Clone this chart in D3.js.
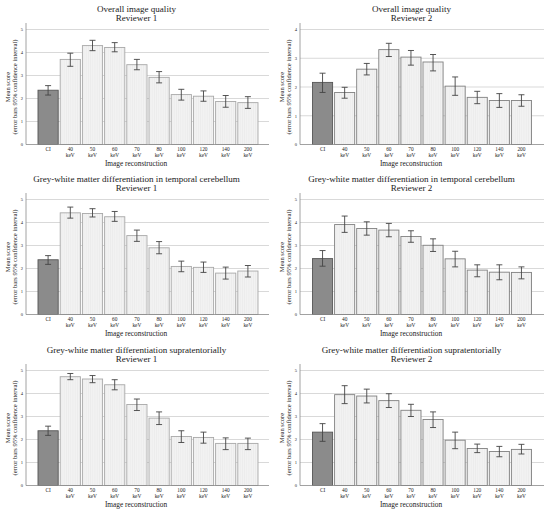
<!DOCTYPE html>
<html><head><meta charset="utf-8">
<script src="https://cdn.jsdelivr.net/npm/d3@7"></script>
<style>body{margin:0;background:#fff}svg{display:block}text{font-family:"Liberation Serif","Times New Roman",serif;fill:#222}</style>
</head><body>
<script>
const categories = ["CI","40 keV","50 keV","60 keV","70 keV","80 keV","100 keV","120 keV","140 keV","200 keV"];
const titles = [
  ["Overall image quality","Reviewer 1"],
  ["Overall image quality","Reviewer 2"],
  ["Grey-white matter differentiation in temporal cerebellum","Reviewer 1"],
  ["Grey-white matter differentiation in temporal cerebellum","Reviewer 2"],
  ["Grey-white matter differentiation supratentorially","Reviewer 1"],
  ["Grey-white matter differentiation supratentorially","Reviewer 2"]
];
const yMaxes = [5,4,5,5,5,5];

const p1Mean = [2.36,3.70,4.30,4.22,3.47,2.92,2.17,2.10,1.87,1.82];
const p1Lo   = [2.15,3.40,4.08,4.03,3.25,2.68,1.93,1.88,1.62,1.57];
const p1Hi   = [2.56,3.97,4.53,4.43,3.70,3.17,2.40,2.33,2.13,2.08];

const p2Mean = [2.16,1.81,2.62,3.30,3.04,2.87,2.03,1.64,1.53,1.53];
const p2Lo   = [1.81,1.61,2.42,3.06,2.76,2.56,1.71,1.42,1.29,1.33];
const p2Hi   = [2.48,1.99,2.82,3.52,3.27,3.13,2.35,1.85,1.77,1.73];

const p3Mean = [2.38,4.42,4.39,4.25,3.43,2.90,2.09,2.05,1.80,1.89];
const p3Lo   = [2.18,4.19,4.24,4.05,3.18,2.64,1.86,1.83,1.54,1.63];
const p3Hi   = [2.56,4.67,4.60,4.48,3.67,3.17,2.32,2.28,2.06,2.13];

const p4Mean = [2.43,3.91,3.74,3.67,3.39,3.01,2.42,1.93,1.84,1.83];
const p4Lo   = [2.10,3.57,3.45,3.38,3.14,2.74,2.07,1.64,1.51,1.55];
const p4Hi   = [2.78,4.28,4.03,3.96,3.64,3.29,2.75,2.16,2.16,2.07];

const p5Mean = [2.38,4.73,4.63,4.38,3.52,2.93,2.13,2.09,1.83,1.83];
const p5Lo   = [2.18,4.60,4.47,4.16,3.26,2.65,1.87,1.84,1.56,1.56];
const p5Hi   = [2.58,4.87,4.78,4.60,3.76,3.20,2.38,2.32,2.07,2.06];

const p6Mean = [2.32,3.95,3.89,3.69,3.27,2.87,1.97,1.61,1.48,1.57];
const p6Lo   = [1.92,3.56,3.59,3.39,3.00,2.52,1.60,1.43,1.25,1.37];
const p6Hi   = [2.69,4.34,4.19,3.99,3.53,3.20,2.32,1.80,1.70,1.79];

const panels = [
  {mean:p1Mean, lo:p1Lo, hi:p1Hi},
  {mean:p2Mean, lo:p2Lo, hi:p2Hi},
  {mean:p3Mean, lo:p3Lo, hi:p3Hi},
  {mean:p4Mean, lo:p4Lo, hi:p4Hi},
  {mean:p5Mean, lo:p5Lo, hi:p5Hi},
  {mean:p6Mean, lo:p6Lo, hi:p6Hi}
];
const yLabel1 = "Mean score";
const yLabel2 = "(error bars 95% confidence interval)";
const xLabel = "Image reconstruction";

const W = 550, H = 512;
const svg = d3.select("body").append("svg").attr("width", W).attr("height", H);

// calibrate font scale so the long title spans ~209px as in the reference
const probe = svg.append("text").style("font-size", "10px").text(titles[2][0]);
const probeW = probe.node().getComputedTextLength();
probe.remove();
const fs = 10 * 207 / probeW; // title font size
const k = fs / 9; // scale for other texts

const defs = svg.append("defs");
const pat = defs.append("pattern").attr("id","stripes").attr("patternUnits","userSpaceOnUse")
  .attr("width",2.2).attr("height",4);
pat.append("rect").attr("width",2.2).attr("height",4).attr("fill","#f2f2f2");
pat.append("line").attr("x1",0.3).attr("x2",0.3).attr("y1",0).attr("y2",4).attr("stroke","#e4e4e4").attr("stroke-width",0.5);

const offsets = [[0,0],[275,0],[0,170],[275,170],[0,341],[275,341]];

panels.forEach((p, i) => {
  const right = i % 2 === 1;
  const g = svg.append("g").attr("transform", `translate(${offsets[i][0]},${offsets[i][1]})`);
  const axisX = right ? 25 : 26;
  const plotR = 269;
  const base = 144.5, top = 29.5;
  const y = d3.scaleLinear().domain([0, yMaxes[i]]).range([base, top]);
  const x = d3.scaleBand().domain(categories).range(right ? [37.5, 256.5] : [38, 258]).paddingInner(0.09).paddingOuter(0);

  // gridlines
  g.append("g").selectAll("line").data(d3.range(1, yMaxes[i] + 1)).join("line")
    .attr("x1", axisX).attr("x2", plotR).attr("y1", d => y(d)).attr("y2", d => y(d))
    .attr("stroke", "#cfcfcf").attr("stroke-width", 0.8);

  // bars
  const strokeLight = right ? "#808080" : "#a8a8a8";
  g.append("g").selectAll("rect").data(categories).join("rect")
    .attr("x", d => x(d)).attr("width", x.bandwidth())
    .attr("y", (d, j) => y(p.mean[j])).attr("height", (d, j) => base - y(p.mean[j]))
    .attr("fill", (d, j) => j === 0 ? "#8b8b8b" : "url(#stripes)")
    .attr("stroke", (d, j) => j === 0 ? "#555" : strokeLight)
    .attr("stroke-width", 0.9);

  // error bars
  const eb = g.append("g").attr("stroke", "#444").attr("stroke-width", 0.9);
  categories.forEach((c, j) => {
    const cx = x(c) + x.bandwidth() / 2;
    eb.append("line").attr("x1", cx).attr("x2", cx).attr("y1", y(p.lo[j])).attr("y2", y(p.hi[j]));
    eb.append("line").attr("x1", cx - 3).attr("x2", cx + 3).attr("y1", y(p.lo[j])).attr("y2", y(p.lo[j]));
    eb.append("line").attr("x1", cx - 3).attr("x2", cx + 3).attr("y1", y(p.hi[j])).attr("y2", y(p.hi[j]));
  });

  // axes lines
  g.append("line").attr("x1", axisX).attr("x2", axisX).attr("y1", 23).attr("y2", base).attr("stroke", "#8a8a8a").attr("stroke-width", 0.8);
  g.append("line").attr("x1", axisX).attr("x2", plotR).attr("y1", base).attr("y2", base).attr("stroke", "#8a8a8a").attr("stroke-width", 0.8);

  // y tick labels
  const yAxis = d3.axisLeft(y).ticks(yMaxes[i]).tickSize(0).tickPadding(3).tickFormat(d3.format("d"));
  const ya = g.append("g").attr("transform", `translate(${axisX},0)`).call(yAxis);
  ya.select(".domain").remove();
  ya.selectAll("text").style("font-size", (4.5 * k) + "px").style("font-family", "Liberation Serif, serif").attr("fill", "#333");

  // x tick labels
  const xl = g.append("g");
  categories.forEach(c => {
    const cx = x(c) + x.bandwidth() / 2;
    const parts = c.split(" ");
    parts.forEach((t, j) => {
      xl.append("text").attr("x", cx).attr("y", 150.5 + j * 6.2).attr("text-anchor", "middle")
        .style("font-size", (5.3 * k) + "px").text(t);
    });
  });

  // x axis label
  g.append("text").attr("x", 136).attr("y", 165.5).attr("text-anchor", "middle").style("font-size", (7.3 * k) + "px").text(xLabel);

  // y labels
  const cy = (base + top) / 2;
  g.append("text").attr("transform", `translate(${right ? 9 : 10},${cy}) rotate(-90)`).attr("text-anchor", "middle").style("font-size", (6.5 * k) + "px").text(yLabel1);
  g.append("text").attr("transform", `translate(${right ? 15.5 : 16.5},${cy}) rotate(-90)`).attr("text-anchor", "middle").style("font-size", (6.5 * k) + "px").text(yLabel2);

  // title
  g.append("text").attr("x", 136.5).attr("y", 11.6).attr("text-anchor", "middle").style("font-size", fs + "px").text(titles[i][0]);
  g.append("text").attr("x", 136.5).attr("y", 20.8).attr("text-anchor", "middle").style("font-size", fs + "px").text(titles[i][1]);
});
</script>
</body></html>
